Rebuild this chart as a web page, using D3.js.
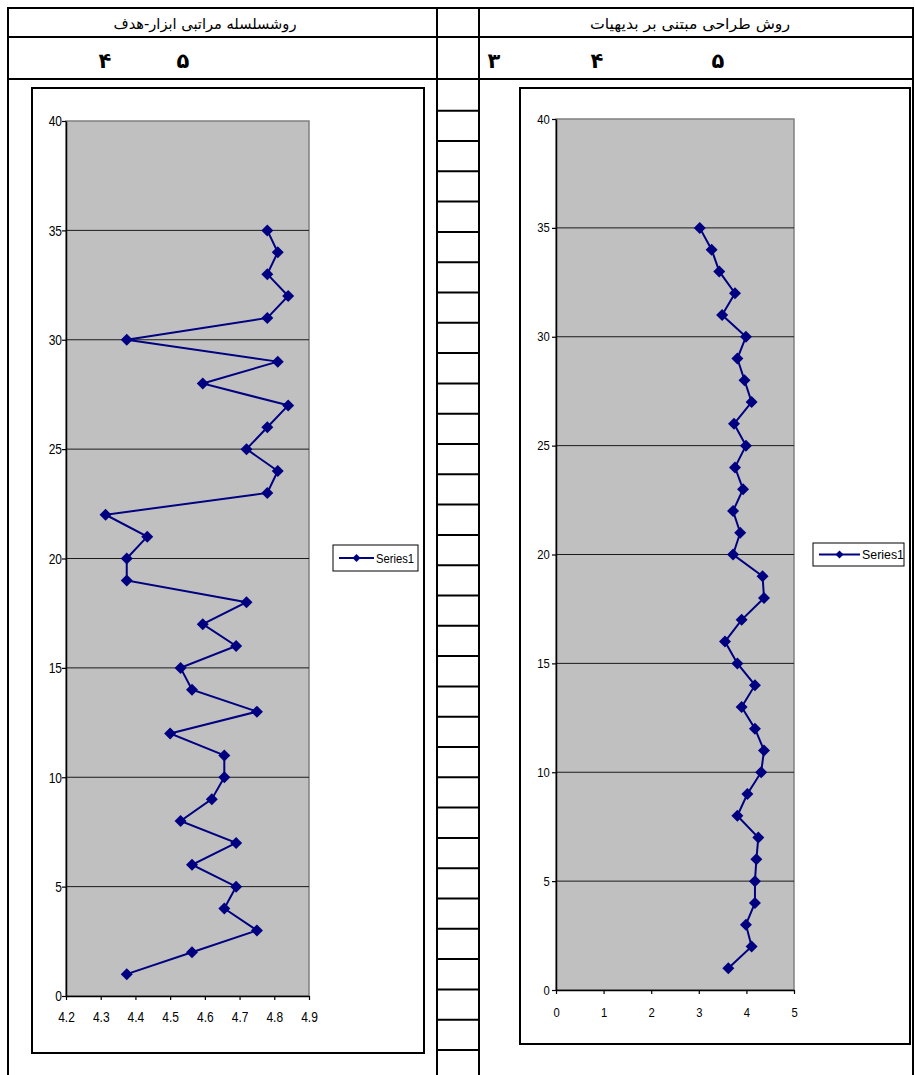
<!DOCTYPE html>
<html>
<head>
<meta charset="utf-8">
<script src="https://cdn.jsdelivr.net/npm/d3@7"></script>
<style>
  body { margin: 0; background: #fff; }
  svg { display: block; }
</style>
</head>
<body>
<div id="vis"></div>
<script>
// DATA
var levels = [1,2,3,4,5,6,7,8,9,10,11,12,13,14,15,16,17,18,19,20,21,22,23,24,25,26,27,28,29,30,31,32,33,34,35];
var htaScores = [4.375,4.563,4.75,4.656,4.69,4.563,4.69,4.53,4.62,4.656,4.656,4.5,4.75,4.563,4.53,4.69,4.594,4.72,4.375,4.375,4.434,4.314,4.78,4.81,4.72,4.78,4.84,4.594,4.81,4.375,4.78,4.84,4.78,4.81,4.78];
var axdScores = [3.62,4.11,3.99,4.18,4.18,4.21,4.25,3.81,4.02,4.31,4.37,4.18,3.90,4.18,3.81,3.55,3.90,4.37,4.34,3.72,3.87,3.72,3.93,3.76,3.99,3.74,4.11,3.96,3.81,3.99,3.49,3.76,3.43,3.27,3.02];
var yTicks = [0,5,10,15,20,25,30,35,40];
var htaXTicks = [4.2,4.3,4.4,4.5,4.6,4.7,4.8,4.9];
var axdXTicks = [0,1,2,3,4,5];
var headerTitles = ["روشسلسله مراتبی ابزار-هدف", "روش طراحی مبتنی بر بدیهیات"];
var htaDigits = ["۴","۵"];
var axdDigits = ["۳","۴","۵"];
var seriesName = "Series1";

var width = 915, height = 1075;
var chart, vis;

// square diamond marker around 0,0
function diamond(r){
  return "M0," + (-r) + "L" + r + ",0L0," + r + "L" + (-r) + ",0Z";
}

// draws the table lines and the two header rows
function drawTable(){
  var t = vis.append("g").attr("stroke", "#000").attr("stroke-width", 2);
  // outer + column lines
  [8, 437, 479, 913].forEach(function(x){
    t.append("line").attr("x1", x).attr("x2", x).attr("y1", 8).attr("y2", height);
  });
  [8, 37, 79].forEach(function(y){
    t.append("line").attr("x1", 7).attr("x2", 914).attr("y1", y).attr("y2", y);
  });
  // little rows in the middle column
  var rowY = d3.range(0, 32).map(function(i){ return 110.7 + i * 30.3; });
  t.selectAll(".row").data(rowY).enter().append("line")
    .attr("x1", 436).attr("x2", 479)
    .attr("y1", function(d){ return d; }).attr("y2", function(d){ return d; });

  // header titles
  var hx = [205, 690], hw = [183, 200];
  vis.selectAll(".hdr").data(headerTitles).enter().append("text")
    .attr("x", function(d, i){ return hx[i]; })
    .attr("y", 29)
    .attr("text-anchor", "middle")
    .attr("direction", "rtl")
    .attr("textLength", function(d, i){ return hw[i]; })
    .attr("lengthAdjust", "spacingAndGlyphs")
    .style("font-family", "'DejaVu Sans', sans-serif")
    .style("font-size", "15px")
    .text(function(d){ return d; });

  // digits row
  var dx1 = [105, 183], dx2 = [494, 597, 718];
  var digits = htaDigits.map(function(d, i){ return {t: d, x: dx1[i]}; })
    .concat(axdDigits.map(function(d, i){ return {t: d, x: dx2[i]}; }));
  vis.selectAll(".dig").data(digits).enter().append("text")
    .attr("x", function(d){ return d.x; })
    .attr("y", 68)
    .attr("text-anchor", "middle")
    .style("font-family", "'DejaVu Sans', sans-serif")
    .style("font-weight", "bold")
    .style("font-size", "21px")
    .text(function(d){ return d.t; });
}

// one excel style chart
function drawChart(c){
  var g = vis.append("g");
  // chart area box
  g.append("rect").attr("x", c.box[0]).attr("y", c.box[1])
    .attr("width", c.box[2] - c.box[0]).attr("height", c.box[3] - c.box[1])
    .attr("fill", "#fff").attr("stroke", "#000").attr("stroke-width", 2);

  var x_scale = d3.scaleLinear().domain(c.xDomain).range([c.plot[0], c.plot[2]]);
  var y_scale = d3.scaleLinear().domain([0, 40]).range([c.plot[3], c.plot[1]]);

  // plot area
  g.append("rect").attr("x", c.plot[0]).attr("y", c.plot[1])
    .attr("width", c.plot[2] - c.plot[0]).attr("height", c.plot[3] - c.plot[1])
    .attr("fill", "#c0c0c0").attr("stroke", "#808080").attr("stroke-width", 1.5);

  // gridlines
  g.selectAll(".grid").data(yTicks.filter(function(d){ return d > 0 && d < 40; }))
    .enter().append("line")
    .attr("x1", c.plot[0]).attr("x2", c.plot[2])
    .attr("y1", function(d){ return y_scale(d); }).attr("y2", function(d){ return y_scale(d); })
    .attr("stroke", "#1a1a1a").attr("stroke-width", 1);

  // axes
  var Y = d3.axisLeft(y_scale).tickValues(yTicks).tickSize(4).tickPadding(c.yPad).tickSizeOuter(0);
  var X = d3.axisBottom(x_scale).tickValues(c.xTicks).tickSize(4).tickPadding(c.xPad).tickSizeOuter(0)
    .tickFormat(c.xFormat);
  var ya = g.append("g").attr("transform", "translate(" + c.plot[0] + ",0)").call(Y);
  var xa = g.append("g").attr("transform", "translate(0," + c.plot[3] + ")").call(X);
  [ya, xa].forEach(function(a){
    a.select(".domain").attr("stroke", "#000").attr("stroke-width", 1.5);
    a.selectAll(".tick line").attr("stroke", "#000").attr("stroke-width", 1.2);
    a.selectAll("text")
      .attr("fill", "#000")
      .style("font-family", "'Liberation Sans', Arial, sans-serif")
      .style("font-size", c.fontSize + "px")
      .attr("transform", "scale(" + c.squeeze + ",1)");
  });

  // series line + markers
  var pts = levels.map(function(lv, i){ return {x: c.values[i], y: lv}; });
  var line = d3.line().x(function(d){ return x_scale(d.x); }).y(function(d){ return y_scale(d.y); });
  g.append("path").datum(pts).attr("d", line)
    .attr("fill", "none").attr("stroke", "#000080").attr("stroke-width", 2);
  g.selectAll(".pt").data(pts).enter().append("path")
    .attr("d", diamond(6))
    .attr("transform", function(d){ return "translate(" + x_scale(d.x) + "," + y_scale(d.y) + ")"; })
    .attr("fill", "#000080");

  // legend
  var L = c.legend;
  g.append("rect").attr("x", L[0]).attr("y", L[1]).attr("width", L[2]).attr("height", L[3])
    .attr("fill", "#fff").attr("stroke", "#000").attr("stroke-width", 1);
  var ly = L[1] + L[3] / 2;
  g.append("line").attr("x1", L[0] + 6).attr("x2", L[0] + L[4]).attr("y1", ly).attr("y2", ly)
    .attr("stroke", "#000080").attr("stroke-width", 2);
  g.append("path").attr("d", diamond(4))
    .attr("transform", "translate(" + (L[0] + 6 + (L[4] - 6) / 2) + "," + ly + ")")
    .attr("fill", "#000080");
  g.append("text").attr("x", L[0] + L[4] + 2).attr("y", ly + 4.5)
    .style("font-family", "'Liberation Sans', Arial, sans-serif")
    .style("font-size", c.legendFont + "px")
    .attr("textLength", c.legendText).attr("lengthAdjust", "spacingAndGlyphs")
    .text(seriesName);
}

function init(){
  chart = d3.select('#vis').append('svg')
    .attr("width", width).attr("height", height);
  vis = chart.append('g');
  drawTable();
  drawChart({
    box: [32, 88, 424, 1053],
    plot: [66, 121, 309, 996],
    xDomain: [4.2, 4.9], xTicks: htaXTicks, xFormat: d3.format(".1f"),
    values: htaScores,
    fontSize: 15, squeeze: 0.8, yPad: 1, xPad: 11,
    legend: [333, 545, 85, 26, 41], legendFont: 13, legendText: 38
  });
  drawChart({
    box: [520, 88, 910, 1044],
    plot: [556, 119, 794, 990],
    xDomain: [0, 5], xTicks: axdXTicks, xFormat: d3.format("d"),
    values: axdScores,
    fontSize: 12.5, squeeze: 0.9, yPad: 3, xPad: 14,
    legend: [813, 543, 91, 23, 47], legendFont: 12, legendText: 42
  });
}

init();
</script>
</body>
</html>
